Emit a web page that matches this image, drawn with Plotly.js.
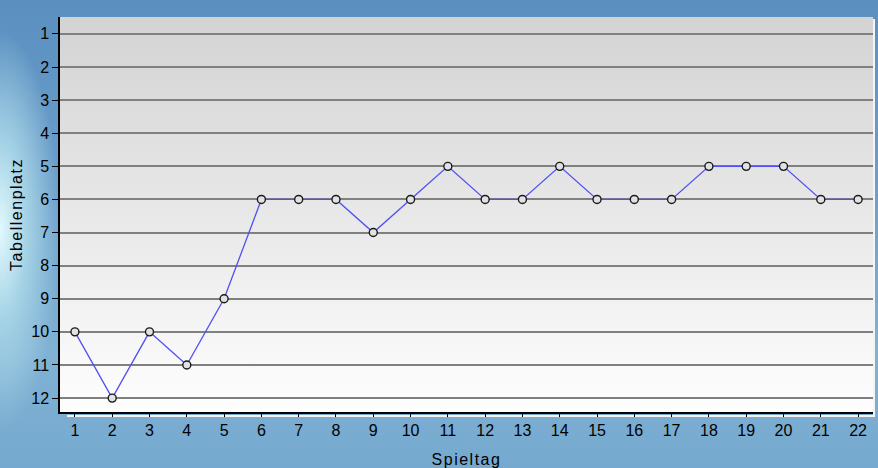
<!DOCTYPE html>
<html>
<head>
<meta charset="utf-8">
<script src="https://cdn.plot.ly/plotly-3.0.1.min.js"></script>
<style>
  html, body { margin: 0; padding: 0; }
  #wrap { position: relative; width: 878px; height: 468px; overflow: hidden;
    background:
      radial-gradient(ellipse 60px 200px at 0px 230px, rgba(225,250,253,1) 0%, rgba(170,215,232,0.9) 45%, rgba(140,190,220,0) 100%),
      linear-gradient(to bottom, #5a8fc0 0%, #6c9fca 40%, #80b2d4 75%, #76a9cf 100%);
  }
  #plotbg { position: absolute; left: 60px; top: 17px; width: 813px; height: 395px;
    background: linear-gradient(to bottom, #d3d3d3 0%, #e6e6e6 45%, #fefefe 100%); }
  #frameR { position: absolute; left: 873px; top: 19px; width: 2px; height: 398px; background: #f4f4f4; }
  #frameB { position: absolute; left: 67px; top: 415px; width: 808px; height: 2px; background: #f4f4f4; }
  #chart { position: absolute; left: 0; top: 0; width: 878px; height: 468px; }
  .xtitle, .ytitle { letter-spacing: 1.5px; }
</style>
</head>
<body>
<div id="wrap">
  <div id="plotbg"></div>
  <div id="frameR"></div>
  <div id="frameB"></div>
  <div id="chart"></div>
</div>
<script>
const spieltag = [1,2,3,4,5,6,7,8,9,10,11,12,13,14,15,16,17,18,19,20,21,22];
const tabellenplatz = [10,12,10,11,9,6,6,6,7,6,5,6,6,5,6,6,6,5,5,5,6,6];
const yTicks = [1,2,3,4,5,6,7,8,9,10,11,12];

const trace = {
  x: spieltag,
  y: tabellenplatz,
  type: 'scatter',
  mode: 'lines+markers',
  line: { color: '#5050f5', width: 1.3 },
  marker: { symbol: 'circle', size: 8, color: '#e2e2e2', line: { color: '#1a1a1a', width: 1.4 } },
  hoverinfo: 'x+y'
};

const layout = {
  width: 878, height: 468,
  margin: { l: 60, r: 5, t: 17, b: 56 },
  paper_bgcolor: 'rgba(0,0,0,0)',
  plot_bgcolor: 'rgba(0,0,0,0)',
  font: { family: 'Liberation Sans, Arial, sans-serif', size: 16, color: '#000' },
  showlegend: false,
  xaxis: {
    range: [0.6, 22.4],
    tickvals: spieltag,
    ticktext: spieltag.map(String),
    ticks: 'outside', ticklen: 3, tickwidth: 1.2, tickcolor: '#000',
    showline: true, linecolor: '#000', linewidth: 1.5,
    showgrid: false, zeroline: false,
    tickfont: { size: 16, color: '#000' },
    title: { text: 'Spieltag', font: { size: 16, color: '#000' }, standoff: 16 }
  },
  yaxis: {
    range: [12.42, 0.49],
    tickvals: yTicks,
    ticktext: yTicks.map(String),
    ticks: 'outside', ticklen: 6, tickwidth: 1.2, tickcolor: '#000',
    showline: true, linecolor: '#000', linewidth: 1.5,
    showgrid: true, gridcolor: '#808080', gridwidth: 1.5,
    zeroline: false,
    tickfont: { size: 16, color: '#000' },
    title: { text: 'Tabellenplatz', font: { size: 16, color: '#000' }, standoff: 5 }
  }
};

Plotly.newPlot('chart', [trace], layout, { displayModeBar: false });
</script>
</body>
</html>
